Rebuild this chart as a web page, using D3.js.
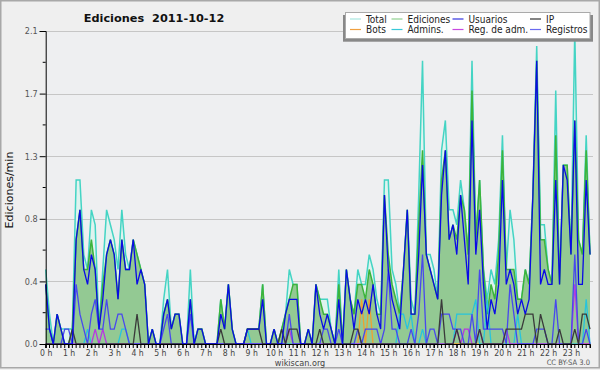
<!DOCTYPE html>
<html><head><meta charset="utf-8">
<script src="https://cdn.jsdelivr.net/npm/d3@7"></script>
<style>body{margin:0;background:#fff}svg{display:block}</style>
</head><body><svg id="c" width="600" height="370"></svg>
<script>
const hourLabels = ["0 h","1 h","2 h","3 h","4 h","5 h","6 h","7 h","8 h","9 h","10 h","11 h","12 h","13 h","14 h","15 h","16 h","17 h","18 h","19 h","20 h","21 h","22 h","23 h"];
const total = [
0.5,0.2,0,0.2,0.1,0.1, 0.1,0.1,1.1,1.1,0.6,0.5, 0.9,0.8,0.1,0.5,0.9,0.8, 0.7,0.5,0.9,0.6,0.5,0.7,
0.6,0.5,0.4,0,0.1,0, 0,0.3,0.5,0.1,0.2,0.2, 0,0,0.5,0,0.1,0.1, 0,0,0,0,0.3,0.1,
0.4,0.1,0,0,0,0.1, 0.1,0.1,0.1,0.4,0,0, 0.1,0,0.1,0.2,0.5,0.4, 0.4,0,0,0.1,0,0.4,
0.3,0.3,0.3,0.1,0,0.5, 0,0.5,0.3,0.2,0.5,0.4, 0.4,0.6,0.5,0.3,0.2,1.1, 1.1,0.5,0.4,0.2,0.5,0.9,
0.3,0.2,1.0,1.9,0.6,0.6, 0.5,0.3,1.3,1.5,0.9,0.9, 0.8,1.1,0.9,0.6,1.9,0.7, 1.1,0.5,0.3,0.5,0.4,0.7,
1.4,0.5,0.9,0.7,0.3,0.3, 0.5,0.4,1.0,2.0,0.8,0.8, 0.5,0.4,1.7,0.4,1.2,1.2, 0.6,2.1,0.7,0.6,1.4,0.6];
const ediciones = [
0.4,0.1,0,0.2,0.1,0, 0,0.1,0.7,0.9,0.5,0.5, 0.7,0.5,0.1,0.4,0.6,0.7, 0.6,0.3,0.7,0.5,0.5,0.7,
0.6,0.5,0.4,0,0.1,0, 0,0.2,0.3,0.1,0.2,0.2, 0,0,0.3,0,0.1,0.1, 0,0,0,0,0.3,0.1,
0.4,0.1,0,0,0,0.1, 0.1,0.1,0.1,0.4,0,0, 0.1,0,0.1,0.2,0.3,0.4, 0.4,0,0,0.1,0,0.4,
0.3,0.2,0.2,0.1,0,0.4, 0,0.5,0.3,0.2,0.4,0.4, 0.3,0.5,0.4,0.2,0.2,1.0, 0.6,0.4,0.3,0.2,0.5,0.9,
0.2,0.2,0.8,1.3,0.6,0.5, 0.4,0.3,1.1,1.3,0.7,0.8, 0.7,1.0,0.9,0.6,1.7,0.7, 1.1,0.5,0.2,0.4,0.3,0.6,
1.3,0.5,0.5,0.5,0.3,0.3, 0.5,0.4,1.0,1.9,0.7,0.7, 0.5,0.4,1.4,0.4,1.2,1.2, 0.6,1.5,0.7,0.6,1.3,0.6];
const usuarios = [
0.4,0.1,0,0.2,0.1,0, 0,0,0.7,0.9,0.5,0.4, 0.6,0.5,0.1,0.3,0.6,0.7, 0.6,0.3,0.7,0.5,0.5,0.7,
0.4,0.5,0.4,0,0.1,0, 0,0.2,0.3,0.1,0.2,0.2, 0,0,0.3,0,0.1,0.1, 0,0,0,0,0.2,0.1,
0.4,0.1,0,0,0,0.1, 0.1,0.1,0.1,0.3,0,0, 0.1,0,0,0.2,0.3,0.3, 0.3,0,0,0.1,0,0.4,
0.2,0.1,0.2,0.1,0,0.3, 0,0.5,0.3,0.1,0.3,0.2, 0.3,0.2,0.4,0.2,0.1,1.0, 0.5,0.3,0.2,0.1,0.5,0.9,
0.2,0.2,0.6,1.2,0.6,0.5, 0.4,0.3,1.0,1.3,0.7,0.8, 0.6,1.0,0.7,0.4,1.5,0.6, 0.9,0.4,0.1,0.3,0.2,0.4,
1.1,0.4,0.5,0.4,0.2,0.3, 0.2,0.3,1.0,1.9,0.4,0.5, 0.4,0.4,1.1,0.4,1.2,1.1, 0.6,1.5,0.4,0.4,1.1,0.6];
const ip = [
0,0,0,0,0,0, 0,0.1,0,0,0,0, 0,0,0,0,0,0, 0,0,0,0,0,0,
0.2,0,0,0,0,0, 0,0,0,0,0,0, 0,0,0,0,0,0, 0,0,0,0,0.1,0,
0,0,0,0,0,0.1, 0.1,0.1,0.1,0,0,0, 0,0,0.1,0,0.1,0.1, 0.1,0,0,0,0,0,
0.1,0,0,0,0,0, 0,0,0,0.1,0.1,0, 0,0,0,0,0,0, 0,0,0,0,0,0,
0,0,0,0,0,0, 0,0,0.3,0,0,0, 0.1,0,0,0,0,0, 0.1,0,0,0,0,0,
0,0.1,0.1,0.1,0.1,0.1, 0.2,0.2,0.2,0,0.2,0.1, 0,0,0,0.1,0,0, 0,0.1,0,0.2,0.2,0.1];
const bots = [
0,0,0,0,0,0, 0,0,0,0,0,0, 0,0,0,0,0,0, 0,0,0,0,0,0,
0,0,0,0,0,0, 0,0,0,0,0,0, 0,0,0,0,0,0, 0,0,0,0,0,0,
0,0,0,0,0,0, 0,0,0,0,0,0, 0,0,0,0,0,0, 0,0,0,0,0,0,
0,0,0,0,0,0, 0,0,0,0,0,0.3, 0,0.3,0,0,0,0, 0,0,0,0,0,0,
0,0,0,0,0,0, 0,0,0,0,0,0, 0,0,0,0,0,0, 0,0,0,0,0,0,
0,0,0,0,0,0, 0,0,0,0,0,0, 0,0,0,0,0,0, 0,0,0,0,0,0];
const admins = [
0,0,0,0,0,0, 0,0,0,0,0,0.1, 0,0,0,0,0,0, 0,0,0.1,0.1,0,0,
0,0,0,0,0,0, 0,0,0,0,0,0, 0,0,0,0,0,0, 0,0,0,0,0,0,
0,0,0,0,0,0.1, 0,0,0,0,0,0, 0,0,0,0,0,0, 0,0,0,0,0,0,
0,0,0,0,0,0, 0,0,0,0,0,0, 0,0,0,0,0,0, 0,0,0,0.2,0.2,0.1,
0.2,0,0,0.1,0,0, 0,0,0,0,0,0, 0.2,0.2,0.2,0.2,0.2,0.3, 0,0,0.3,0,0,0,
0,0,0,0,0.2,0, 0,0,0,0,0,0, 0,0,0,0,0,0, 0,0,0,0,0.3,0];
const regAdm = [
0,0,0,0,0,0, 0,0,0,0,0,0, 0,0.1,0,0.1,0,0, 0,0,0,0,0,0,
0,0,0,0,0,0, 0,0,0,0,0,0, 0,0,0,0,0,0, 0,0,0,0,0,0,
0,0,0,0,0,0, 0,0,0,0,0,0, 0,0,0,0,0.1,0, 0,0,0,0,0,0,
0,0,0,0,0,0, 0,0,0,0,0,0, 0,0,0,0,0,0, 0,0,0,0,0,0,
0,0,0,0,0,0, 0,0,0,0,0,0, 0.1,0,0.1,0.1,0,0, 0.1,0,0,0,0,0,
0,0.1,0,0,0,0, 0,0,0,0,0,0, 0,0,0,0,0,0, 0,0.4,0,0,0,0];
const registros = [
0.1,0.1,0,0,0,0.1, 0.1,0,0.4,0.2,0.1,0, 0.2,0.3,0.1,0.1,0.3,0.1, 0.1,0.2,0.2,0.1,0,0,
0,0,0,0,0,0, 0,0.1,0.2,0,0,0, 0,0,0.2,0,0,0, 0,0,0,0,0,0,
0,0,0,0,0,0, 0,0,0,0,0,0, 0,0,0,0,0.2,0, 0,0,0,0,0,0,
0,0.1,0.1,0,0,0.1, 0,0,0,0,0.1,0, 0.1,0.1,0.1,0.1,0,0.1, 0.5,0.1,0.1,0,0,0,
0.1,0,0.2,0.6,0,0.1, 0.1,0,0.2,0.2,0.2,0.1, 0.1,0.1,0,0,0.2,0, 0.5,0.1,0.1,0.1,0.1,0.1,
0.1,0,0.4,0.2,0,0, 0,0,0,0.1,0.1,0.1, 0,0,0.3,0,0,0, 0,0.6,0,0,0.1,0];
const yTickValues = [0, 0.42, 0.84, 1.26, 1.68, 2.1];
const yTickLabels = ["0.0","0.4","0.8","1.3","1.7","2.1"];
const yMinorTicks = [0.21, 0.63, 1.05, 1.47, 1.89];
const legendNames = ["Total","Ediciones","Usuarios","IP","Bots","Admins.","Reg. de adm.","Registros"];
const legendColors = ["#a8e6df","#8fd08f","#3434e0","#333333","#f0a040","#38c8d8","#c848e0","#6a6af0"];

const W = 600, H = 370;
const svg = d3.select("#c");
const font = "'DejaVu Sans Condensed', 'DejaVu Sans', sans-serif";
const fontB = "'DejaVu Sans', sans-serif";
svg.append("rect").attr("x",0).attr("y",0).attr("width",W).attr("height",H).attr("fill","#efefef");
svg.append("rect").attr("x",0.75).attr("y",0.75).attr("width",W-1.5).attr("height",H-3).attr("fill","none").attr("stroke","#a8a8a8").attr("stroke-width",1.5);

const x = d3.scaleLinear().domain([0,143]).range([45.7,590]);
const y = d3.scaleLinear().domain([0,2.1]).range([344,31]);

svg.append("rect").attr("x",45.7).attr("y",31).attr("width",547.3).attr("height",313).attr("fill","#eeeff1");

svg.append("g").selectAll("line").data(yTickValues.slice(1)).join("line")
  .attr("x1",45.7).attr("x2",593).attr("y1",d=>Math.round(y(d))+0.5).attr("y2",d=>Math.round(y(d))+0.5)
  .attr("stroke","#c6c6c6").attr("stroke-width",1);

const idx = d3.range(144);
const area = (arr) => d3.area().x(i=>x(i)).y0(y(0)).y1(i=>y(arr[i]));
const line = (arr) => d3.line().x(i=>x(i)).y(i=>y(arr[i]));

svg.append("path").attr("d",area(total)(idx)).attr("fill","#dff3ef");
svg.append("path").attr("d",line(total)(idx)).attr("fill","none").attr("stroke","#44d4c4").attr("stroke-width",1.5);
svg.append("path").attr("d",area(ediciones)(idx)).attr("fill","#93c993");
svg.append("path").attr("d",line(ediciones)(idx)).attr("fill","none").attr("stroke","#3cb43c").attr("stroke-width",1.5);

const lines = [
  [bots,"#f0a030"],[admins,"#28c4dc"],[regAdm,"#b838e0"],[registros,"#4848ee"],[ip,"#3a3a3a"],[usuarios,"#0a0ae6"]
];
lines.forEach(([arr,c])=>{
  svg.append("path").attr("d",line(arr)(idx)).attr("fill","none").attr("stroke",c).attr("stroke-width",1.3);
});

const yAxis = d3.axisLeft(y).tickValues(yTickValues).tickFormat((d,i)=>yTickLabels[i]).tickSize(6).tickPadding(2);
const gy = svg.append("g").attr("transform","translate(45.7,0)").call(yAxis);
gy.select(".domain").attr("stroke","#000");
gy.selectAll("text").attr("font-family",font).attr("font-size",9).attr("fill","#555");
svg.append("g").selectAll("line").data(yMinorTicks).join("line")
  .attr("x1",42.7).attr("x2",45.7).attr("y1",d=>y(d)).attr("y2",d=>y(d)).attr("stroke","#000");

const xAxis = d3.axisBottom(x).tickValues(d3.range(0,144,6)).tickFormat((d,i)=>hourLabels[i]).tickSize(4).tickPadding(1.5);
const gx = svg.append("g").attr("transform","translate(0,344)").call(xAxis);
gx.select(".domain").attr("stroke","#000");
gx.selectAll("text").attr("font-family",font).attr("font-size",8.6).attr("fill","#444");
svg.append("g").selectAll("line").data(d3.range(144)).join("line")
  .attr("x1",d=>x(d)).attr("x2",d=>x(d)).attr("y1",344).attr("y2",348).attr("stroke","#000");

svg.append("text").attr("x",154).attr("y",21.5).attr("text-anchor","middle").attr("font-family",fontB)
  .attr("font-weight","bold").attr("font-size",11.3).attr("fill","#111").style("white-space","pre").text("Ediciones  2011-10-12");
svg.append("text").attr("transform","translate(13,190) rotate(-90)").attr("text-anchor","middle")
  .attr("font-family",fontB).attr("font-size",11).attr("fill","#111").text("Ediciones/min");
svg.append("text").attr("x",300).attr("y",366).attr("text-anchor","middle").attr("font-family",font)
  .attr("font-size",9).attr("fill","#444").text("wikiscan.org");
svg.append("text").attr("x",590).attr("y",365).attr("text-anchor","end").attr("font-family",font)
  .attr("font-size",7.5).attr("fill","#555").text("CC BY-SA 3.0");

const lg = svg.append("g");
lg.append("rect").attr("x",343).attr("y",15).attr("width",250).attr("height",26.7).attr("fill","#888");
lg.append("rect").attr("x",345.5).attr("y",12.5).attr("width",244.5).attr("height",26).attr("fill","#fff").attr("stroke","#aaa");
const colX = [350,391.5,452.5,530];
legendNames.forEach((n,i)=>{
  const cx = colX[i%4], cy = i<4 ? 19 : 29.5;
  lg.append("line").attr("x1",cx).attr("x2",cx+11).attr("y1",cy).attr("y2",cy).attr("stroke",legendColors[i]).attr("stroke-width",1.2);
  lg.append("text").attr("x",cx+16).attr("y",cy+3.5).attr("font-family",font).attr("font-size",10).attr("fill","#222").text(n);
});
</script></body></html>
